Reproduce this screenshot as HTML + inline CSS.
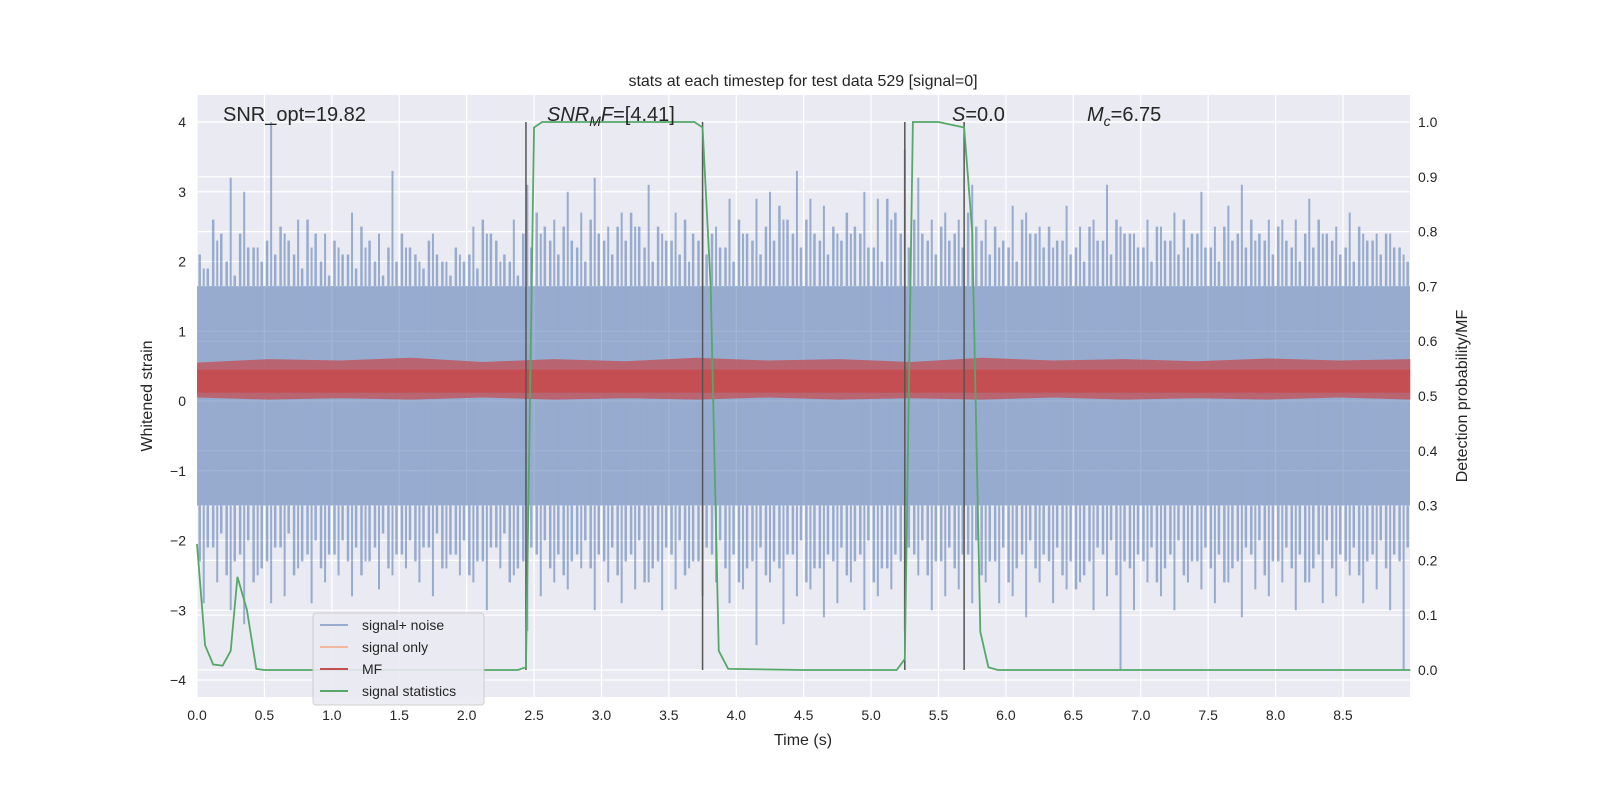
<!DOCTYPE html>
<html><head><meta charset="utf-8">
<style>
body{margin:0;background:#fff;}
svg text{font-family:"Liberation Sans","DejaVu Sans",sans-serif;fill:#262626;}
</style></head>
<body>
<svg id="chart" width="1600" height="800">
<rect x="197" y="95" width="1213" height="602" fill="#eaeaf2"/>
<g id="grid"></g>
<g id="noise" opacity="0.52"></g>
<g id="mf"></g>
<g id="stat"></g>
<g id="axes"></g>
<text x="803" y="86" font-size="16" text-anchor="middle">stats at each timestep for test data 529 [signal=0]</text>
<text x="223" y="121" font-size="20">SNR_opt=19.82</text>
<text x="547" y="121" font-size="20"><tspan font-style="italic">SNR</tspan><tspan font-style="italic" font-size="14" dy="5">M</tspan><tspan font-style="italic" dy="-5">F</tspan>=[4.41]</text>
<text x="952" y="121" font-size="20"><tspan font-style="italic">S</tspan>=0.0</text>
<text x="1087" y="121" font-size="20"><tspan font-style="italic">M</tspan><tspan font-style="italic" font-size="14" dy="5">c</tspan><tspan dy="-5">=6.75</tspan></text>
<text x="803" y="745" font-size="16" text-anchor="middle">Time (s)</text>
<text transform="translate(152,396) rotate(-90)" font-size="16" text-anchor="middle">Whitened strain</text>
<text transform="translate(1467,396) rotate(-90)" font-size="16" text-anchor="middle">Detection probability/MF</text>
<g>
<rect x="313" y="613" width="171" height="92" rx="3" fill="#eaeaf2" stroke="#cccccc" opacity="0.9"/>
<line x1="320" y1="625" x2="348" y2="625" stroke="#9aabd0" stroke-width="2"/>
<text x="362" y="630" font-size="14">signal+ noise</text>
<line x1="320" y1="647" x2="348" y2="647" stroke="#f3b7a0" stroke-width="2"/>
<text x="362" y="652" font-size="14">signal only</text>
<line x1="320" y1="669" x2="348" y2="669" stroke="#c44e52" stroke-width="2"/>
<text x="362" y="674" font-size="14">MF</text>
<line x1="320" y1="691" x2="348" y2="691" stroke="#55a868" stroke-width="2"/>
<text x="362" y="696" font-size="14">signal statistics</text>
</g>
</svg>
<script>
const upperPeaks=[1.9,2.3,3.2,3.0,2.2,4.0,2.4,2.6,2.2,2.4,2.2,2.7,2.2,2.4,3.3,2.2,2.0,2.4,2.0,2.1,2.5,2.4,2.0,2.6,3.1,2.4,2.6,3.0,2.7,3.2,2.5,2.7,2.5,3.1,2.4,2.7,2.0,2.9,2.5,2.9,2.4,2.9,3.0,2.6,3.3,2.9,2.8,2.4,2.4,3.0,2.9,2.6,3.6,3.2,2.6,2.7,2.6,3.1,2.6,2.2,2.8,2.7,2.5,2.2,2.8,2.5,2.6,3.1,2.5,2.4,2.6,2.5,2.7,2.2,3.0,2.5,2.8,3.1,2.3,2.6,2.6,2.6,2.9,2.4,2.5,2.7,2.4,2.4,2.4,2.1];
const lowerPeaks=[-2.9,-2.6,-3.0,-3.2,-2.5,-2.9,-2.8,-2.4,-2.9,-2.6,-2.5,-2.8,-2.3,-2.7,-2.5,-2.4,-2.6,-2.8,-2.4,-2.5,-2.6,-3.0,-2.4,-2.5,-3.3,-2.8,-2.6,-2.7,-2.4,-3.0,-2.6,-2.9,-2.7,-2.6,-3.0,-2.7,-2.4,-2.8,-2.6,-2.9,-2.7,-3.5,-2.6,-3.2,-2.8,-2.7,-3.1,-2.9,-2.6,-3.0,-2.8,-2.7,-3.3,-2.5,-3.0,-2.8,-2.7,-2.9,-2.6,-2.9,-2.8,-3.1,-2.6,-2.9,-2.7,-2.6,-3.0,-2.8,-3.85,-3.0,-2.6,-2.8,-3.0,-2.6,-2.7,-2.9,-2.6,-3.1,-2.7,-2.8,-2.6,-3.0,-2.6,-2.9,-2.8,-2.5,-2.9,-2.7,-3.0,-3.85];
const upperMid=[2.1,2.6,2.0,2.4,2.2,2.3,2.5,2.1,2.6,2.0,2.3,2.1,2.5,2.0,2.2,2.4,2.1,2.3,2.0,2.2,2.1,2.6,2.3,2.0,2.4,2.7,2.3,2.5,2.2,2.6,2.3,2.5,2.7,2.2,2.5,2.3,2.6,2.3,2.4,2.2,2.6,2.3,2.5,2.8,2.4,2.6,2.3,2.5,2.7,2.4,2.2,2.9,2.4,2.6,2.3,2.5,2.4,2.7,2.3,2.5,2.2,2.6,2.4,2.5,2.3,2.2,2.5,2.3,2.6,2.4,2.2,2.5,2.3,2.6,2.4,2.2,2.5,2.4,2.6,2.3,2.5,2.2,2.4,2.6,2.3,2.2,2.5,2.3,2.4,2.2];
const lowerMid=[-2.3,-2.1,-2.5,-2.2,-2.6,-2.3,-2.1,-2.5,-2.2,-2.4,-2.2,-2.3,-2.5,-2.1,-2.4,-2.2,-2.3,-2.1,-2.4,-2.2,-2.5,-2.3,-2.1,-2.6,-2.3,-2.2,-2.4,-2.5,-2.2,-2.4,-2.3,-2.5,-2.2,-2.6,-2.3,-2.2,-2.5,-2.3,-2.2,-2.4,-2.6,-2.3,-2.5,-2.4,-2.2,-2.6,-2.4,-2.3,-2.5,-2.2,-2.6,-2.4,-2.3,-2.2,-2.5,-2.3,-2.4,-2.2,-2.5,-2.3,-2.6,-2.2,-2.4,-2.3,-2.5,-2.7,-2.3,-2.2,-2.5,-2.4,-2.3,-2.6,-2.2,-2.5,-2.3,-2.4,-2.6,-2.3,-2.2,-2.5,-2.3,-2.4,-2.6,-2.2,-2.4,-2.3,-2.5,-2.2,-2.4,-2.3];
const coreBand=[-1.5,1.65];
const mfUpper=[0.55,0.6,0.58,0.62,0.56,0.6,0.57,0.62,0.58,0.6,0.56,0.62,0.58,0.6,0.57,0.61,0.58,0.6];
const mfLower=[0.05,0.02,0.04,0.02,0.05,0.02,0.04,0.02,0.05,0.02,0.04,0.02,0.05,0.02,0.04,0.02,0.05,0.02];
const statTimes=[0,0.06,0.12,0.19,0.25,0.3,0.37,0.44,0.5,1.0,2.0,2.38,2.44,2.5,2.56,3.0,3.5,3.69,3.75,3.81,3.87,3.94,4.5,5.0,5.19,5.25,5.31,5.5,5.69,5.75,5.81,5.87,5.94,6.5,7.5,8.5,9.0];
const statValues=[0.23,0.045,0.01,0.008,0.035,0.17,0.11,0.002,0,0,0,0,0.005,0.99,1.0,1.0,1.0,1.0,0.99,0.7,0.035,0.002,0,0,0,0.02,1.0,1.0,0.99,0.8,0.07,0.005,0,0,0,0,0];
const vlineTimes=[2.44,3.75,5.25,5.69];
const xTicks=[0,0.5,1,1.5,2,2.5,3,3.5,4,4.5,5,5.5,6,6.5,7,7.5,8,8.5];
const yLeftTicks=[-4,-3,-2,-1,0,1,2,3,4];
const yRightTicks=[0,0.1,0.2,0.3,0.4,0.5,0.6,0.7,0.8,0.9,1.0];

const X=t=>197+t*134.82, YL=v=>401-v*69.75, YR=v=>670-v*548;
const NS="http://www.w3.org/2000/svg";
function mk(tag,attrs,parent){const e=document.createElementNS(NS,tag);for(const k in attrs)e.setAttribute(k,attrs[k]);document.getElementById(parent).appendChild(e);return e;}

xTicks.forEach(t=>{const l=mk('line',{x1:X(t),x2:X(t),y1:95,y2:697,stroke:'#fff','stroke-width':1.2},'grid');


const tx=mk('text',{x:X(t),y:720,'font-size':14,'text-anchor':'middle'},'axes');tx.textContent=t.toFixed(1);

});
yLeftTicks.forEach(v=>{const l=mk('line',{x1:197,x2:1410,y1:YL(v),y2:YL(v),stroke:'#fff','stroke-width':1.2},'grid');


const tx=mk('text',{x:186,y:YL(v)+5,'font-size':14,'text-anchor':'end'},'axes');tx.textContent=(v<0?'\u2212'+(-v):v);

});
yRightTicks.forEach(v=>{const l=mk('line',{x1:197,x2:1410,y1:YR(v),y2:YR(v),stroke:'#fff','stroke-width':1.2},'grid');


const tx=mk('text',{x:1418,y:YR(v)+5,'font-size':14},'axes');tx.textContent=v.toFixed(1);

});

const NC='#4c72b0';
const core=mk('rect',{x:197,y:YL(coreBand[1]),width:1213,height:YL(coreBand[0])-YL(coreBand[1]),fill:NC},'noise');


upperPeaks.forEach((v,i)=>{const t=i*0.1+0.05;const l=mk('line',{x1:X(t),x2:X(t),y1:YL(v),y2:YL(lowerPeaks[i]),stroke:NC,'stroke-width':2},'noise');

});
upperMid.forEach((v,i)=>{const t=i*0.1+0.02;const l=mk('line',{x1:X(t),x2:X(t),y1:YL(v),y2:YL(lowerMid[i]),stroke:NC,'stroke-width':2.5},'noise');


const t2=i*0.1+0.08;const l2=mk('line',{x1:X(t2),x2:X(t2),y1:YL(v-0.2),y2:YL(lowerMid[i]+0.2),stroke:NC,'stroke-width':2.5},'noise');

});

let up=[],lo=[];const n=mfUpper.length;
mfUpper.forEach((v,i)=>{up.push(X(i*9/(n-1))+','+YL(v));});
for(let i=n-1;i>=0;i--)lo.push(X(i*9/(n-1))+','+YL(mfLower[i]));
const mfp=mk('polygon',{points:up.concat(lo).join(' '),fill:'#c44e52',opacity:0.75},'mf');


const mfc=mk('rect',{x:197,y:YL(0.45),width:1213,height:YL(0.12)-YL(0.45),fill:'#c44e52'},'mf');



vlineTimes.forEach(t=>{const l=mk('line',{x1:X(t),x2:X(t),y1:YR(1),y2:YR(0),stroke:'#555','stroke-width':1.5},'stat');

});
const pl=mk('polyline',{points:statTimes.map((t,i)=>X(t)+','+YR(statValues[i])).join(' '),fill:'none',stroke:'#55a868','stroke-width':1.8},'stat');


</script>
</body></html>
